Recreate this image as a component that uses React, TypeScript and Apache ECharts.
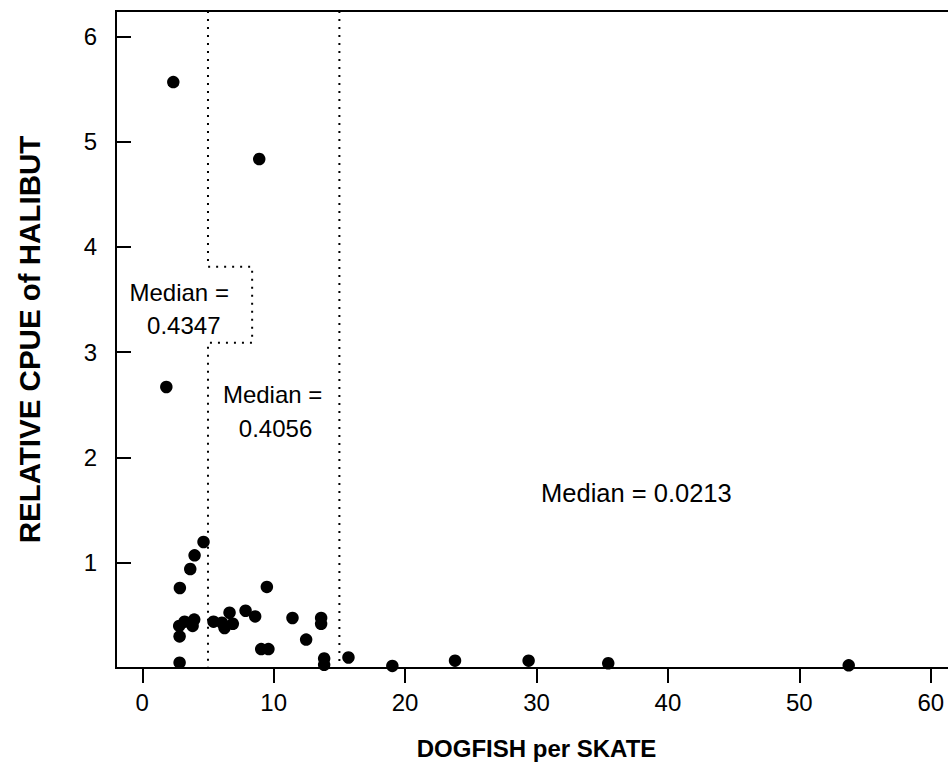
import React, { useEffect, useRef } from "react";
import * as echarts from "echarts";

// Observations: dogfish per skate (x) and relative CPUE of halibut (y)
const dogfish = [
  2.36, 8.9, 1.83, 4.66, 3.98, 3.65, 2.86, 2.81, 3.22, 3.95, 3.83, 2.84, 2.84,
  5.42, 6.06, 6.26, 6.64, 6.89, 7.86, 8.59, 9.48, 9.05, 9.6, 11.43, 12.47,
  13.61, 13.61, 13.84, 13.84, 15.69, 19.03, 23.8, 29.4, 35.46, 53.76,
];
const cpue = [
  5.565, 4.834, 2.669, 1.197, 1.07, 0.94, 0.76, 0.4, 0.44, 0.46, 0.4, 0.3, 0.05,
  0.44, 0.43, 0.38, 0.525, 0.42, 0.544, 0.49, 0.77, 0.18, 0.18, 0.475, 0.27,
  0.475, 0.42, 0.09, 0.03, 0.1, 0.02, 0.07, 0.07, 0.045, 0.025,
];

// Axis ticks
const xTicks = [0, 10, 20, 30, 40, 50, 60];
const yTicks = [1, 2, 3, 4, 5, 6];

// Group boundaries (dogfish per skate) and the notch drawn around the first median label
const cutoffs = [5, 15];
const notchX = 8.36;
const notchTop = 3.81;
const notchBottom = 3.09;

// Median annotations
const medianTexts = ["Median =", "0.4347", "Median =", "0.4056", "Median = 0.0213"];
const medianX = [2.81, 3.16, 9.92, 10.14, 37.6];
const medianY = [3.57, 3.257, 2.6, 2.27, 1.66];

const X_MIN = -2;
const X_MAX = 62;
const Y_MIN = 0;
const Y_MAX = 6.24;

const FONT = "'Liberation Sans', Arial, Helvetica, sans-serif";

export default function App() {
  const ref = useRef<HTMLDivElement>(null);

  useEffect(() => {
    if (!ref.current) return;
    const chart = echarts.init(ref.current, null, { renderer: "svg" });

    const points = dogfish.map((x, i) => [x, cpue[i]]);
    const line1 = [
      [cutoffs[0], Y_MAX],
      [cutoffs[0], notchTop],
      [notchX, notchTop],
      [notchX, notchBottom],
      [cutoffs[0], notchBottom],
      [cutoffs[0], Y_MIN],
    ];
    const line2 = [
      [cutoffs[1], Y_MAX],
      [cutoffs[1], Y_MIN],
    ];
    const labels = medianTexts.map((t, i) => ({
      value: [medianX[i], medianY[i]],
      name: t,
      label: { fontSize: i === 4 ? 25.5 : 24 },
    }));

    const dotted = {
      color: "#000",
      width: 2,
      type: [2, 6] as any,
    };

    chart.setOption({
      animation: false,
      backgroundColor: "#fff",
      grid: {
        left: 116,
        right: -9,
        top: 11,
        bottom: 100,
        show: true,
        borderColor: "#000",
        borderWidth: 2,
        outerBoundsMode: "none",
      },
      xAxis: {
        type: "value",
        min: X_MIN,
        max: X_MAX,
        name: "DOGFISH per SKATE",
        nameLocation: "middle",
        nameGap: 68,
        nameTextStyle: { fontFamily: FONT, fontWeight: "bold", fontSize: 24, color: "#000" },
        axisLine: { show: true, onZero: false, lineStyle: { color: "#000", width: 2 } },
        axisTick: {
          show: true,
          inside: false,
          length: 15,
          customValues: xTicks,
          lineStyle: { color: "#000", width: 2 },
        },
        axisLabel: {
          show: true,
          customValues: xTicks,
          margin: 22,
          fontFamily: FONT,
          fontSize: 24,
          color: "#000",
        },
        splitLine: { show: false },
      },
      yAxis: {
        type: "value",
        min: Y_MIN,
        max: Y_MAX,
        name: "RELATIVE CPUE of HALIBUT",
        nameLocation: "middle",
        nameRotate: 90,
        nameGap: 72,
        nameTextStyle: {
          fontFamily: FONT,
          fontWeight: "bold",
          fontSize: 29.5,
          color: "#000",
          padding: [0, 0, 0, 0],
        },
        axisLine: { show: true, onZero: false, lineStyle: { color: "#000", width: 2 } },
        axisTick: {
          show: true,
          inside: true,
          length: 15,
          customValues: yTicks,
          lineStyle: { color: "#000", width: 2 },
        },
        axisLabel: {
          show: true,
          customValues: yTicks,
          margin: 19,
          fontFamily: FONT,
          fontSize: 24,
          color: "#000",
        },
        splitLine: { show: false },
      },
      series: [
        {
          type: "line",
          data: line1,
          symbol: "none",
          lineStyle: dotted,
          silent: true,
          z: 1,
        },
        {
          type: "line",
          data: line2,
          symbol: "none",
          lineStyle: dotted,
          silent: true,
          z: 1,
        },
        {
          type: "scatter",
          data: points,
          symbol: "circle",
          symbolSize: 12.5,
          itemStyle: { color: "#000", opacity: 1 },
          z: 3,
        },
        {
          type: "scatter",
          data: labels,
          symbol: "circle",
          symbolSize: 1,
          itemStyle: { color: "rgba(0,0,0,0)", opacity: 1 },
          silent: true,
          label: {
            show: true,
            position: "inside",
            formatter: (p: any) => p.name,
            fontFamily: FONT,
            fontSize: 24,
            color: "#000",
            opacity: 1,
            align: "center",
            verticalAlign: "middle",
          },
          z: 4,
        },
      ],
    });

    return () => chart.dispose();
  }, []);

  return (
    <div
      ref={ref}
      style={{ position: "fixed", left: 0, top: 0, width: 948, height: 768, background: "#fff" }}
    />
  );
}
